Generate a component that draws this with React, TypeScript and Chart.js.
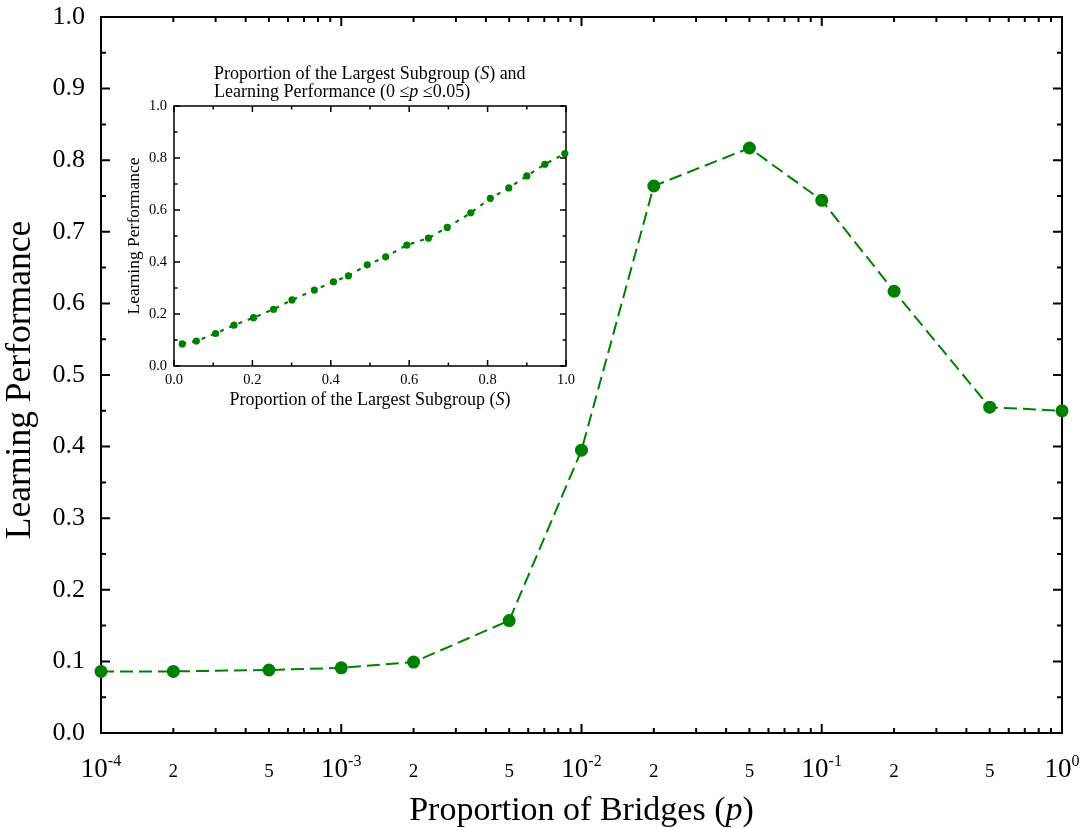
import React, { useEffect, useRef } from 'react';
import { Chart, registerables } from 'chart.js';

Chart.register(...registerables);

// ---------- data ----------
const pValues = [0.0001, 0.0002, 0.0005, 0.001, 0.002, 0.005, 0.01, 0.02, 0.05, 0.1, 0.2, 0.5, 1];
const mainPerformance = [0.086, 0.086, 0.088, 0.091, 0.099, 0.157, 0.395, 0.764, 0.817, 0.744, 0.617, 0.455, 0.45];

const subgroupS = [0.021, 0.057, 0.106, 0.153, 0.203, 0.254, 0.301, 0.358, 0.407, 0.445, 0.493, 0.54, 0.594, 0.649, 0.697, 0.757, 0.807, 0.854, 0.9, 0.946, 0.997];
const insetPerformance = [0.085, 0.096, 0.125, 0.157, 0.186, 0.218, 0.254, 0.292, 0.324, 0.347, 0.389, 0.42, 0.465, 0.492, 0.533, 0.589, 0.645, 0.685, 0.731, 0.776, 0.817];

const xTickValues = [1e-4, 2e-4, 5e-4, 1e-3, 2e-3, 5e-3, 1e-2, 2e-2, 5e-2, 1e-1, 2e-1, 5e-1, 1];
const xTickLabels = ['10^-4', '2', '5', '10^-3', '2', '5', '10^-2', '2', '5', '10^-1', '2', '5', '10^0'];
const xDecades = [1e-4, 1e-3, 1e-2, 1e-1, 1];
const xMinorMultiples = [2, 3, 4, 5, 6, 7, 8, 9];

const mainYMajor = [0, 0.1, 0.2, 0.3, 0.4, 0.5, 0.6, 0.7, 0.8, 0.9, 1.0];
const mainYMinor = [0.05, 0.15, 0.25, 0.35, 0.45, 0.55, 0.65, 0.75, 0.85, 0.95];
const insetMajor = [0, 0.2, 0.4, 0.6, 0.8, 1.0];
const insetMinor = [0.1, 0.3, 0.5, 0.7, 0.9];

const FONT = '"Liberation Serif", "DejaVu Serif", serif';
const GREEN = '#008000';

// ---------- plugins ----------
const frameTicksPlugin = {
  id: 'frameTicks',
  beforeDatasetsDraw(chart: any, _args: any, o: any) {
    const { ctx, chartArea: a, scales } = chart;
    const x = scales.x;
    const y = scales.y;
    ctx.save();
    ctx.strokeStyle = '#000';
    ctx.lineWidth = o.lw;
    ctx.lineCap = 'butt';
    const vt = (vals: number[], len: number) => {
      vals.forEach((v) => {
        const px = x.getPixelForValue(v);
        ctx.beginPath();
        ctx.moveTo(px, a.bottom);
        ctx.lineTo(px, a.bottom - len);
        ctx.moveTo(px, a.top);
        ctx.lineTo(px, a.top + len);
        ctx.stroke();
      });
    };
    const ht = (vals: number[], len: number) => {
      vals.forEach((v) => {
        const py = y.getPixelForValue(v);
        ctx.beginPath();
        ctx.moveTo(a.left, py);
        ctx.lineTo(a.left + len, py);
        ctx.moveTo(a.right, py);
        ctx.lineTo(a.right - len, py);
        ctx.stroke();
      });
    };
    vt(o.xMajor, o.major);
    vt(o.xMinor, o.minor);
    ht(o.yMajor, o.major);
    ht(o.yMinor, o.minor);
    ctx.strokeRect(a.left, a.top, a.right - a.left, a.bottom - a.top);
    ctx.restore();
  },
};

const xLabelsPlugin = {
  id: 'xLabels',
  afterDraw(chart: any, _args: any, o: any) {
    if (!o || !o.values) return;
    const { ctx, chartArea: a, scales } = chart;
    const xs = scales.x;
    const base = a.bottom + o.baseline;
    ctx.save();
    ctx.fillStyle = '#000';
    ctx.textBaseline = 'alphabetic';
    o.values.forEach((v: number, i: number) => {
      const lab: string = o.labels[i];
      const px = xs.getPixelForValue(v);
      if (lab.includes('^')) {
        const [b, e] = lab.split('^');
        ctx.font = `${o.big}px ${FONT}`;
        const wb = ctx.measureText(b).width;
        ctx.font = `${o.sup}px ${FONT}`;
        const we = ctx.measureText(e).width;
        const x0 = px - (wb + we) / 2;
        ctx.textAlign = 'left';
        ctx.font = `${o.big}px ${FONT}`;
        ctx.fillText(b, x0, base);
        ctx.font = `${o.sup}px ${FONT}`;
        ctx.fillText(e, x0 + wb, base - o.raise);
      } else {
        ctx.textAlign = 'center';
        ctx.font = `${o.small}px ${FONT}`;
        ctx.fillText(lab, px, base);
      }
    });
    ctx.restore();
  },
};

type Run = { t: string; i?: boolean };
type TextItem = { runs: Run[]; dx: number; dy: number; ref: string; align: 'left' | 'center'; rotate?: boolean; size: number };

const textsPlugin = {
  id: 'texts',
  afterDraw(chart: any, _args: any, o: any) {
    if (!o || !o.items) return;
    const { ctx, chartArea: a } = chart;
    ctx.save();
    ctx.fillStyle = '#000';
    ctx.textBaseline = 'alphabetic';
    ctx.textAlign = 'left';
    o.items.forEach((it: TextItem) => {
      const fontFor = (r: Run) => `${r.i ? 'italic ' : ''}${it.size}px ${FONT}`;
      let total = 0;
      const widths = it.runs.map((r) => {
        ctx.font = fontFor(r);
        const w = ctx.measureText(r.t).width;
        total += w;
        return w;
      });
      let ox: number;
      let oy: number;
      if (it.ref === 'bottom') {
        ox = (a.left + a.right) / 2 + it.dx;
        oy = a.bottom + it.dy;
      } else if (it.ref === 'left') {
        ox = a.left + it.dx;
        oy = (a.top + a.bottom) / 2 + it.dy;
      } else {
        ox = a.left + it.dx;
        oy = a.top + it.dy;
      }
      ctx.save();
      ctx.translate(ox, oy);
      if (it.rotate) ctx.rotate(-Math.PI / 2);
      let cx = it.align === 'center' ? -total / 2 : 0;
      it.runs.forEach((r, k) => {
        ctx.font = fontFor(r);
        ctx.fillText(r.t, cx, 0);
        cx += widths[k];
      });
      ctx.restore();
    });
    ctx.restore();
  },
};

const xMinorValues = xDecades.slice(0, -1).flatMap((d) => xMinorMultiples.map((m) => d * m));

export default function App() {
  const mainRef = useRef<HTMLCanvasElement | null>(null);
  const insetRef = useRef<HTMLCanvasElement | null>(null);

  useEffect(() => {
    const mainChart = new Chart(mainRef.current as HTMLCanvasElement, {
      type: 'line',
      data: {
        datasets: [
          {
            data: pValues.map((p, i) => ({ x: p, y: mainPerformance[i] })),
            borderColor: GREEN,
            backgroundColor: GREEN,
            borderWidth: 2,
            borderDash: [13, 6],
            pointRadius: 6.5,
            pointBorderWidth: 0,
            pointBackgroundColor: GREEN,
            tension: 0,
            clip: false as any,
          },
        ],
      },
      options: {
        animation: false,
        responsive: false,
        layout: { padding: { top: 17, right: 29, left: 0, bottom: 0 } },
        scales: {
          x: {
            type: 'logarithmic',
            min: 1e-4,
            max: 1,
            ticks: { display: false },
            grid: { display: false, drawTicks: false },
            border: { display: false },
            afterFit: (s: any) => {
              s.height = 95;
              s.paddingLeft = 0;
              s.paddingRight = 0;
            },
          },
          y: {
            type: 'linear',
            min: 0,
            max: 1,
            ticks: {
              stepSize: 0.1,
              padding: 16,
              color: '#000',
              font: { family: FONT, size: 26 },
              callback: (v: any) => Number(v).toFixed(1),
            },
            grid: { display: false, drawTicks: false },
            border: { display: false },
            afterFit: (s: any) => {
              s.width = 101;
              s.paddingTop = 0;
              s.paddingBottom = 0;
            },
          },
        },
        plugins: {
          legend: { display: false },
          tooltip: { enabled: false },
          frameTicks: { lw: 2, major: 9, minor: 5, xMajor: xDecades, xMinor: xMinorValues, yMajor: mainYMajor, yMinor: mainYMinor },
          xLabels: { values: xTickValues, labels: xTickLabels, big: 27, sup: 16, small: 19, raise: 11, baseline: 44 },
          texts: {
            items: [
              { runs: [{ t: 'Proportion of Bridges (' }, { t: 'p', i: true }, { t: ')' }], ref: 'bottom', dx: 0, dy: 87, align: 'center', size: 34 },
              { runs: [{ t: 'Learning Performance' }], ref: 'left', dx: -71, dy: 5, align: 'center', rotate: true, size: 35.5 },
            ],
          },
        } as any,
      },
      plugins: [frameTicksPlugin, xLabelsPlugin, textsPlugin],
    } as any);

    const insetChart = new Chart(insetRef.current as HTMLCanvasElement, {
      type: 'line',
      data: {
        datasets: [
          {
            data: subgroupS.map((s, i) => ({ x: s, y: insetPerformance[i] })),
            borderColor: GREEN,
            backgroundColor: GREEN,
            borderWidth: 2.2,
            borderDash: [4, 6],
            pointRadius: 3.6,
            pointBorderWidth: 0,
            pointBackgroundColor: GREEN,
            tension: 0,
            clip: false as any,
          },
        ],
      },
      options: {
        animation: false,
        responsive: false,
        layout: { padding: { top: 51, right: 14, left: 0, bottom: 0 } },
        scales: {
          x: {
            type: 'linear',
            min: 0,
            max: 1,
            ticks: {
              stepSize: 0.2,
              padding: 5,
              autoSkip: false,
              maxRotation: 0,
              color: '#000',
              font: { family: FONT, size: 14.5 },
              callback: (v: any) => Number(v).toFixed(1),
            },
            grid: { display: false, drawTicks: false },
            border: { display: false },
            afterFit: (s: any) => {
              s.height = 54;
              s.paddingLeft = 0;
              s.paddingRight = 0;
            },
          },
          y: {
            type: 'linear',
            min: 0,
            max: 1,
            ticks: {
              stepSize: 0.2,
              padding: 7,
              color: '#000',
              font: { family: FONT, size: 14.5 },
              callback: (v: any) => Number(v).toFixed(1),
            },
            grid: { display: false, drawTicks: false },
            border: { display: false },
            afterFit: (s: any) => {
              s.width = 74;
              s.paddingTop = 0;
              s.paddingBottom = 0;
            },
          },
        },
        plugins: {
          legend: { display: false },
          tooltip: { enabled: false },
          frameTicks: { lw: 1.5, major: 6, minor: 3.5, xMajor: insetMajor, xMinor: insetMinor, yMajor: insetMajor, yMinor: insetMinor },
          texts: {
            items: [
              { runs: [{ t: 'Proportion of the Largest Subgroup (' }, { t: 'S', i: true }, { t: ')' }], ref: 'bottom', dx: 0, dy: 39, align: 'center', size: 18 },
              { runs: [{ t: 'Learning Performance' }], ref: 'left', dx: -35, dy: 0, align: 'center', rotate: true, size: 17.5 },
              { runs: [{ t: 'Proportion of the Largest Subgroup (' }, { t: 'S', i: true }, { t: ') and' }], ref: 'top', dx: 40, dy: -27, align: 'left', size: 18 },
              { runs: [{ t: 'Learning Performance (0 \u2264' }, { t: 'p', i: true }, { t: ' \u22640.05)' }], ref: 'top', dx: 40, dy: -9, align: 'left', size: 18 },
            ],
          },
        } as any,
      },
      plugins: [frameTicksPlugin, textsPlugin],
    } as any);

    return () => {
      mainChart.destroy();
      insetChart.destroy();
    };
  }, []);

  return (
    <div style={{ position: 'absolute', left: 0, top: 0, width: 1091, height: 828, background: '#fff' }}>
      <canvas ref={mainRef} width={1091} height={828} style={{ position: 'absolute', left: 0, top: 0 }} />
      <canvas ref={insetRef} width={480} height={365} style={{ position: 'absolute', left: 100, top: 55 }} />
    </div>
  );
}
